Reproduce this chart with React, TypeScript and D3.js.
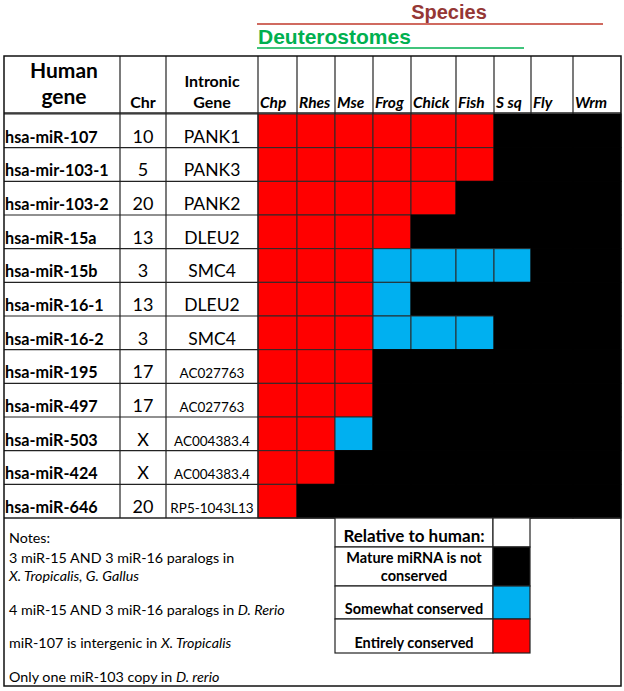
import React, { useEffect, useRef } from 'react';
import * as d3 from 'd3';

const genes = ['hsa-miR-107', 'hsa-mir-103-1', 'hsa-mir-103-2', 'hsa-miR-15a', 'hsa-miR-15b', 'hsa-miR-16-1',
    'hsa-miR-16-2', 'hsa-miR-195', 'hsa-miR-497', 'hsa-miR-503', 'hsa-miR-424', 'hsa-miR-646'];
const chromosomes = ['10', '5', '20', '13', '3', '13', '3', '17', '17', 'X', 'X', '20'];
const intronicGenes = ['PANK1', 'PANK3', 'PANK2', 'DLEU2', 'SMC4', 'DLEU2', 'SMC4', 'AC027763', 'AC027763',
    'AC004383.4', 'AC004383.4', 'RP5-1043L13'];
const species = ['Chp', 'Rhes', 'Mse', 'Frog', 'Chick', 'Fish', 'S sq', 'Fly', 'Wrm'];
// one letter per species: E = entirely conserved, S = somewhat conserved, N = not conserved
const conservation = [
    'EEEEEENNN',
    'EEEEEENNN',
    'EEEEENNNN',
    'EEEENNNNN',
    'EEESSSSNN',
    'EEESNNNNN',
    'EEESSSNNN',
    'EEENNNNNN',
    'EEENNNNNN',
    'EESNNNNNN',
    'EENNNNNNN',
    'ENNNNNNNN',
];
const legendKeys = ['H', 'N', 'S', 'E'];
const legendLabels = [['Relative to human:'], ['Mature miRNA is not', 'conserved'], ['Somewhat conserved'], ['Entirely conserved']];
const notes = [
    [['Notes:', false]],
    [['3 miR-15 AND 3 miR-16 paralogs in', false]],
    [['X. Tropicalis, G. Gallus', true]],
    [['4 miR-15 AND 3 miR-16 paralogs in ', false], ['D. Rerio', true]],
    [['miR-107 is intergenic in ', false], ['X. Tropicalis', true]],
    [['Only one miR-103 copy in ', false], ['D. rerio', true]],
];

const FONT = 'Lato, "Open Sans", sans-serif';

const App = () => {
    const svgRef = useRef(null);

    useEffect(() => {
        const svg = d3.select(svgRef.current);
        svg.selectAll('*').remove();

        const top = 56, headBottom = 114, tableBottom = 518, bottom = 686;
        const left = 4, right = 621;
        const colEdges = [258, 297, 335, 373, 411, 456, 494, 531, 573, 621];

        const color = d3.scaleOrdinal().domain(['E', 'S', 'N', 'H']).range(['#ff0000', '#00b0f0', '#000000', '#ffffff']);
        const xSp = d3.scaleOrdinal().domain(species).range(colEdges.slice(0, -1));
        const wSp = (s) => colEdges[species.indexOf(s) + 1] - xSp(s);
        const y = d3.scaleBand().domain(genes).range([headBottom, tableBottom]);

        // titles above table
        svg.append('text').attr('x', 449).attr('y', 19).attr('text-anchor', 'middle')
            .attr('font-family', 'Arial, "Liberation Sans", sans-serif').attr('font-weight', 'bold')
            .attr('font-size', 20).attr('fill', '#953735').text('Species');
        svg.append('line').attr('x1', 257).attr('x2', 603).attr('y1', 24).attr('y2', 24)
            .attr('stroke', '#c0392b').attr('stroke-width', 1.5);
        svg.append('text').attr('x', 258).attr('y', 44)
            .attr('font-family', 'Arial, "Liberation Sans", sans-serif').attr('font-weight', 'bold')
            .attr('font-size', 21).attr('fill', '#00b050').text('Deuterostomes');
        svg.append('line').attr('x1', 257).attr('x2', 524).attr('y1', 48).attr('y2', 48)
            .attr('stroke', '#00b050').attr('stroke-width', 1.5);

        // conservation cells
        const rows = svg.append('g');
        genes.forEach((g, i) => {
            species.forEach((s, j) => {
                const k = conservation[i][j];
                rows.append('rect')
                    .attr('x', xSp(s)).attr('y', y(g))
                    .attr('width', wSp(s)).attr('height', y.bandwidth())
                    .attr('fill', color(k))
                    .attr('stroke', k === 'N' ? '#000' : '#2a2a2a')
                    .attr('stroke-width', 1);
            });
        });

        // left columns text
        const txt = svg.append('g').attr('font-family', FONT).attr('fill', '#000');
        genes.forEach((g, i) => {
            const base = y(g) + y.bandwidth() - 5;
            txt.append('text').attr('x', 5).attr('y', base).attr('font-weight', 'bold').attr('font-size', 16.2).text(g);
            txt.append('text').attr('x', 143).attr('y', base).attr('text-anchor', 'middle').attr('font-size', 18).text(chromosomes[i]);
            const ig = intronicGenes[i];
            txt.append('text').attr('x', 212).attr('y', base).attr('text-anchor', 'middle')
                .attr('font-size', ig.length > 6 ? 13.5 : 17.5).text(ig);
        });

        // header text
        txt.append('text').attr('x', 64).attr('y', 78).attr('text-anchor', 'middle').attr('font-weight', 'bold').attr('font-size', 21).text('Human');
        txt.append('text').attr('x', 64).attr('y', 104).attr('text-anchor', 'middle').attr('font-weight', 'bold').attr('font-size', 21).text('gene');
        txt.append('text').attr('x', 143).attr('y', 108).attr('text-anchor', 'middle').attr('font-weight', 'bold').attr('font-size', 16).text('Chr');
        txt.append('text').attr('x', 212).attr('y', 87).attr('text-anchor', 'middle').attr('font-weight', 'bold').attr('font-size', 16).text('Intronic');
        txt.append('text').attr('x', 212).attr('y', 108).attr('text-anchor', 'middle').attr('font-weight', 'bold').attr('font-size', 16).text('Gene');
        species.forEach(s => {
            txt.append('text').attr('x', xSp(s) + 2).attr('y', 108)
                .attr('font-weight', 'bold').attr('font-style', 'italic').attr('font-size', 15.5).text(s);
        });

        // grid lines
        const grid = svg.append('g').attr('stroke', '#222').attr('fill', 'none');
        genes.forEach(g => {
            grid.append('line').attr('x1', left).attr('x2', 258).attr('y1', y(g)).attr('y2', y(g)).attr('stroke-width', 1.2);
        });
        grid.append('line').attr('x1', left).attr('x2', right).attr('y1', headBottom - 1).attr('y2', headBottom - 1).attr('stroke-width', 1.5);
        [120, 166, 258].forEach(x => {
            grid.append('line').attr('x1', x).attr('x2', x).attr('y1', top).attr('y2', tableBottom).attr('stroke-width', 1.2);
        });
        colEdges.slice(1, -1).forEach(x => {
            grid.append('line').attr('x1', x).attr('x2', x).attr('y1', top).attr('y2', headBottom).attr('stroke-width', 1.2);
        });
        grid.append('line').attr('x1', left).attr('x2', right).attr('y1', tableBottom).attr('y2', tableBottom).attr('stroke-width', 1.5);
        grid.append('rect').attr('x', left).attr('y', top).attr('width', right - left).attr('height', bottom - top)
            .attr('stroke', '#111').attr('stroke-width', 1.5);

        // notes
        const noteBase = [543, 563, 581, 615, 648, 682];
        notes.forEach((parts, i) => {
            const t = txt.append('text').attr('x', 9).attr('y', noteBase[i]).attr('font-size', 14.3);
            parts.forEach(([str, it]) => {
                t.append('tspan').attr('font-style', it ? 'italic' : 'normal').text(str);
            });
        });

        // legend
        const lgEdges = [518, 547, 586, 619, 653];
        const lgLeft = 335, lgSw = 493, lgRight = 530;
        const lg = svg.append('g');
        legendKeys.forEach((k, i) => {
            const y0 = lgEdges[i], y1 = lgEdges[i + 1];
            lg.append('rect').attr('x', lgLeft).attr('y', y0).attr('width', lgSw - lgLeft).attr('height', y1 - y0)
                .attr('fill', '#fff').attr('stroke', '#222').attr('stroke-width', 1.2);
            lg.append('rect').attr('x', lgSw).attr('y', y0).attr('width', lgRight - lgSw).attr('height', y1 - y0)
                .attr('fill', color(k)).attr('stroke', '#222').attr('stroke-width', 1.2);
            const lines = legendLabels[i];
            lines.forEach((line, j) => {
                lg.append('text').attr('x', (lgLeft + lgSw) / 2).attr('y', y1 - 5 - (lines.length - 1 - j) * 18)
                    .attr('text-anchor', 'middle').attr('font-family', FONT).attr('font-weight', 'bold')
                    .attr('font-size', i === 0 ? 17 : 14.5).text(line);
            });
        });
    }, []);

    return (
        <div style={{ position: 'absolute', left: 0, top: 0 }}>
            <svg ref={svgRef} width={624} height={691} style={{ display: 'block', background: '#fff' }}>
            </svg>
        </div>
    );
};

export default App;
